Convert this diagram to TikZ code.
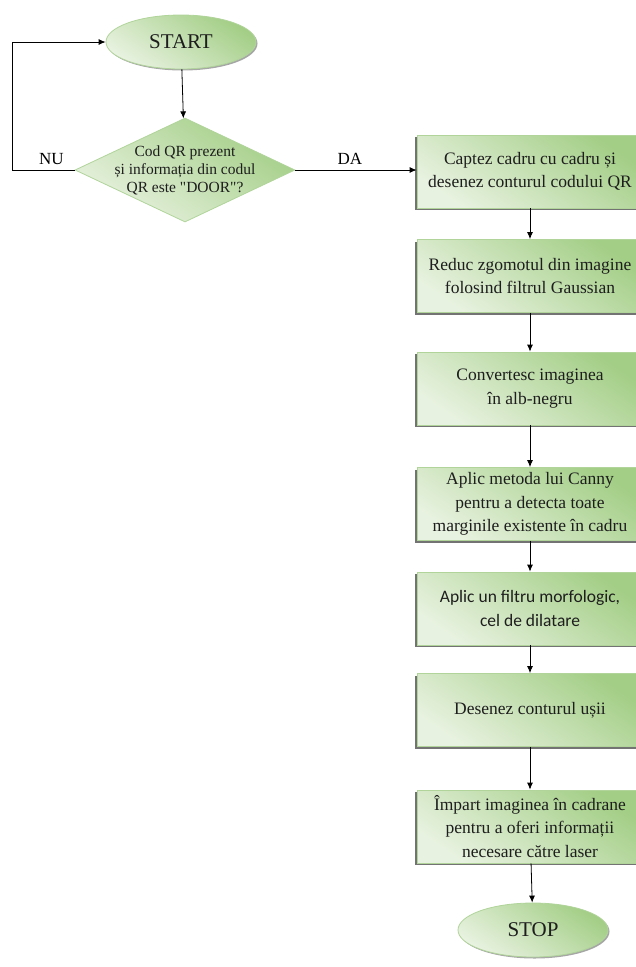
\documentclass[tikz,border=0pt]{standalone}
\usepackage{fontspec}
\setmainfont{Liberation Serif}
\newfontfamily\calibri{Carlito}
\usetikzlibrary{shapes.geometric, arrows.meta, shadows, positioning}

\definecolor{frunza}{HTML}{A3CE86}
\definecolor{frunzadeschis}{HTML}{E8F2E0}
\definecolor{contur}{HTML}{B0D49A}
\definecolor{scris}{HTML}{1E1E1E}

\tikzset{
  verde/.style={draw=contur, line width=0.8pt, top color=frunza, bottom color=frunzadeschis, shading angle=-35, text=scris},
  pas/.style={verde, rectangle, minimum width=226, minimum height=73, inner ysep=1pt, align=center,
    font=\fontsize{17.5}{23.5}\selectfont, drop shadow={shadow xshift=-2pt, shadow yshift=-2pt, fill=black!55, opacity=1}},
  capat/.style={verde, ellipse, minimum width=150, minimum height=54, font=\fontsize{21}{25}\selectfont,
    drop shadow={shadow xshift=1.5pt, shadow yshift=-1.5pt, fill=black!35, opacity=1}},
  intrebare/.style={verde, diamond, minimum width=220, minimum height=104, inner sep=0pt},
  sageata/.style={-{Latex[length=7pt,width=6pt]}, line width=0.8pt},
}

\begin{document}
\begin{tikzpicture}[x=1pt, y=-1pt]
    \useasboundingbox (0,0) rectangle (635,967);

    % inceput si decizie
    \node[capat] (start) at (181,42) {START};
    \node[intrebare] (q) at (185,170) {};
    \node[align=center, text=scris, font=\fontsize{15.5}{18}\selectfont] (qtext) at (q) {Cod QR prezent\\și informația din codul\\QR este \textquotedbl DOOR\textquotedbl ?};
    \coordinate (colt) at (12,170);

    % pasii de prelucrare
    \node[pas] (b1) at (530,171.5) {Captez cadru cu cadru și\\desenez conturul codului QR};
    \node[pas] (b2) at (530,276) {Reduc zgomotul din imagine\\folosind filtrul Gaussian};
    \node[pas] (b3) at (530,388.5) {Convertesc imaginea\\în alb-negru};
    \node[pas] (b4) at (530,504) {Aplic metoda lui Canny\\pentru a detecta toate\\marginile existente în cadru};
    \node[pas, font=\calibri\fontsize{17.5}{23.5}\selectfont] (b5) at (530,608.5) {Aplic un filtru morfologic,\\cel de dilatare};
    \node[pas] (b6) at (530,710) {Desenez conturul ușii};
    \node[pas] (b7) at (530,826.5) {Împart imaginea în cadrane\\pentru a oferi informații\\necesare către laser};
    \node[capat] (stop) at (533,930) {STOP};

    % legaturi
    \draw[sageata] (start) -- (q);
    \draw[sageata] (q.west) -- node[pos=0.37, above=2pt, font=\fontsize{17}{20}\selectfont] (nu) {NU} (colt) |- (start.west);
    \draw[sageata] (q.east) -- node[pos=0.45, above=2pt, font=\fontsize{17}{20}\selectfont] (da) {DA} (q.east -| b1.west);
    \foreach \sus/\jos in {b1/b2, b2/b3, b3/b4, b4/b5, b5/b6, b6/b7, b7/stop} {
      \draw[sageata] (\sus) -- (\jos);
    }
\end{tikzpicture}
\end{document}
